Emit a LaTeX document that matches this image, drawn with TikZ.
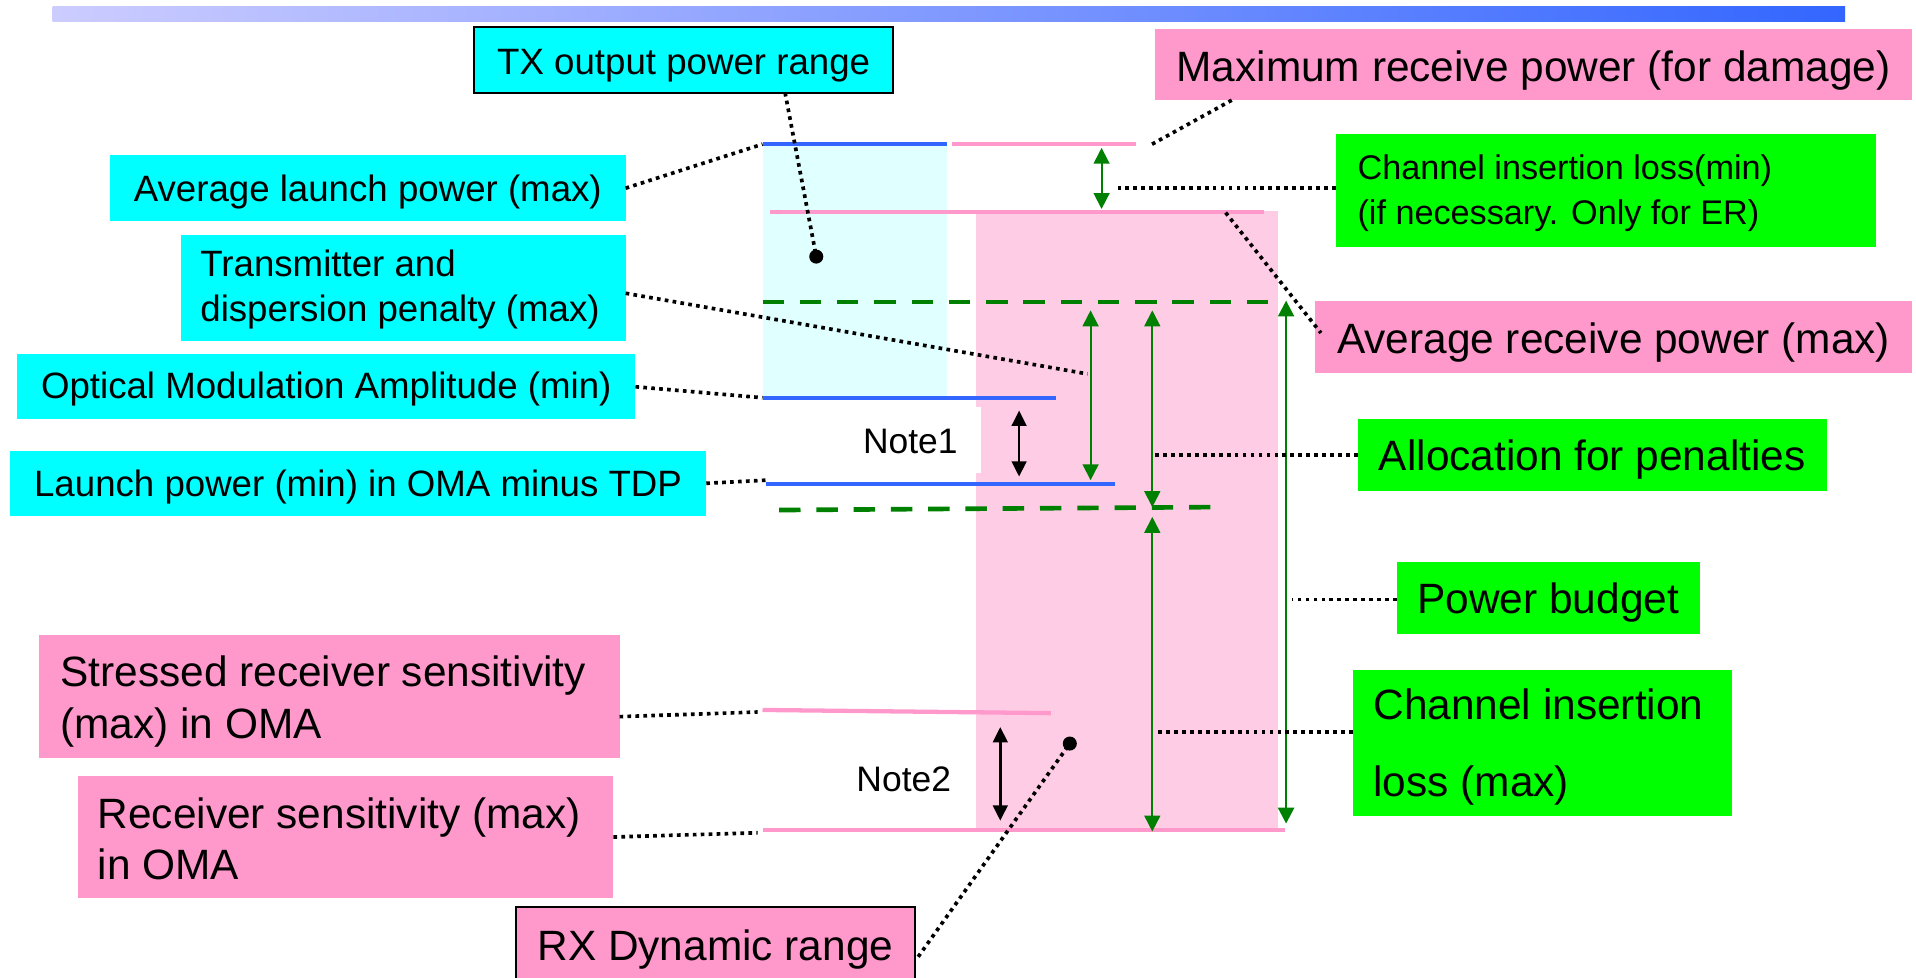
\documentclass[tikz,border=0pt]{standalone}
\usepackage{fontspec}
\setmainfont{Liberation Sans}
\usetikzlibrary{arrows.meta,calc}
\definecolor{cyanbox}{HTML}{00FFFF}
\definecolor{pinkbox}{HTML}{FF99CC}
\definecolor{greenbox}{HTML}{00FF00}
\definecolor{lightcyan}{HTML}{E0FFFF}
\definecolor{lightpink}{HTML}{FFCCE5}
\definecolor{lineblue}{HTML}{3366FF}
\definecolor{linepink}{HTML}{FF99CC}
\definecolor{darkgreen}{HTML}{008000}
\definecolor{barL}{HTML}{CCCCFF}
\definecolor{barM}{HTML}{A4ACFF}
\definecolor{barR}{HTML}{3366FF}
% text placed with its first baseline raised by #1 from the box centre
\newcommand\bt[4]{\smash{\raisebox{#1}{\makebox[#2][#3]{\begin{tabular}[t]{@{}#3@{}}#4\end{tabular}}}}}
\tikzset{
  lab/.style={rectangle, inner sep=0pt, outer sep=0pt, text=black},
  cyanlab/.style={lab, fill=cyanbox, font=\fontsize{30}{37}\selectfont},
  pinklab/.style={lab, fill=pinkbox, font=\fontsize{34.7}{42}\selectfont},
  greenlab/.style={lab, fill=greenbox, font=\fontsize{34.7}{42}\selectfont},
  notelab/.style={lab, font=\fontsize{29}{35}\selectfont},
  dotnode/.style={circle, fill=black, inner sep=0pt, minimum size=11.5pt},
  conn/.style={line width=3pt, dash pattern=on 3pt off 3.5pt, black},
  hblue/.style={line width=3.5pt, lineblue},
  hpink/.style={line width=3.5pt, linepink},
  gdash/.style={line width=3.8pt, darkgreen, dash pattern=on 17.5pt off 13pt},
  garrow/.style={line width=1.5pt, darkgreen, {Triangle[length=13pt,width=13pt]}-{Triangle[length=13pt,width=13pt]}},
  barrow/.style={line width=2pt, black, {Triangle[length=12.5pt,width=12pt]}-{Triangle[length=12.5pt,width=12pt]}}
}
\begin{document}
\begin{tikzpicture}[x=1pt,y=-1pt]
\useasboundingbox (0,0) rectangle (1568,800);
\clip (0,0) rectangle (1568,800);

% title bar
\shade[left color=barL, middle color=barM, right color=barR] (43,5) rectangle (1510,18);

% shaded ranges
\fill[lightcyan] (624,118) rectangle (775,325);
\fill[lightpink] (799,173) rectangle (1046,680);

% level coordinates
\coordinate (b1w) at (624,118);   \coordinate (b1e) at (775,118);
\coordinate (p1w) at (779,118);   \coordinate (p1e) at (930,118);
\coordinate (p2w) at (630.5,173.5); \coordinate (p2e) at (1034,173.5);
\coordinate (k1w) at (624,247);   \coordinate (k1e) at (1038,247);
\coordinate (b2w) at (624,325.5); \coordinate (b2e) at (864,325.5);
\coordinate (b3w) at (626.5,396); \coordinate (b3e) at (912.5,396);
\coordinate (k2w) at (637.6,417.4); \coordinate (k2e) at (991,415);
\coordinate (p3w) at (624,581);   \coordinate (p3e) at (860,583.6);
\coordinate (p4w) at (624,679.5); \coordinate (p4e) at (1052,679.5);

% level lines
\draw[hblue] (b1w) -- (b1e);
\draw[hpink] (p1w) -- (p1e);
\draw[hpink] (p2w) -- (p2e);
\draw[gdash] (k1w) -- (k1e);
\draw[hblue] (b2w) -- (b2e);
\draw[hblue] (b3w) -- (b3e);
\draw[gdash] (k2w) -- (k2e);
\draw[hpink] (p3w) -- (p3e);
\draw[hpink] (p4w) -- (p4e);

% Notes
\node[notelab, fill=white, minimum width=116pt, minimum height=54pt] (note1) at (745,360) {\bt{-11pt}{0pt}{c}{Note1}};
\node[notelab, minimum width=90pt, minimum height=40pt] (note2) at (739.6,637.7) {\bt{-10.3pt}{0pt}{c}{Note2}};

% arrows
\coordinate (g1t) at (901.5,121);  \coordinate (g1b) at (901.5,171);
\coordinate (g2t) at (892.5,254);  \coordinate (g2b) at (892.5,393);
\coordinate (g3t) at (943,254);    \coordinate (g3b) at (943,415);
\coordinate (g4t) at (1052.5,246); \coordinate (g4b) at (1052.5,674);
\coordinate (g5t) at (943,423);    \coordinate (g5b) at (943,680.5);
\coordinate (n1t) at (834,336);    \coordinate (n1b) at (834,390);
\coordinate (n2t) at (818.6,595);  \coordinate (n2b) at (818.6,671.6);
\draw[garrow] (g1t) -- (g1b);
\draw[garrow] (g2t) -- (g2b);
\draw[garrow] (g3t) -- (g3b);
\draw[garrow, line width=2.1pt] (g4t) -- (g4b);
\draw[garrow] (g5t) -- (g5b);
\draw[barrow] (n1t) -- (n1b);
\draw[barrow] (n2t) -- (n2b);

% dots
\node[dotnode] (d1) at (668,210) {};
\node[dotnode] (d2) at (875.5,608.5) {};

% label boxes
\node[cyanlab, draw=black, line width=1.5pt, minimum width=343pt, minimum height=54pt] (tx) at (559.5,49) {\bt{-11.8pt}{0pt}{c}{TX output power range}};
\node[pinklab, minimum width=620pt, minimum height=58pt] (maxrx) at (1255,53) {\bt{-13.8pt}{0pt}{c}{Maximum receive power (for damage)}};
\node[cyanlab, minimum width=422pt, minimum height=54pt] (avglaunch) at (301,154) {\bt{-11pt}{0pt}{c}{Average launch power (max)}};
\node[cyanlab, minimum width=364pt, minimum height=87pt] (tdp) at (330,235.5) {\bt{9.1pt}{332pt}{l}{Transmitter and\\dispersion penalty (max)}};
\node[cyanlab, minimum width=506pt, minimum height=53pt] (oma) at (267,316.5) {\bt{-9.5pt}{0pt}{c}{Optical Modulation Amplitude (min)}};
\node[cyanlab, minimum width=570pt, minimum height=53pt] (lpmin) at (293,395.5) {\bt{-10.5pt}{0pt}{c}{Launch power (min) in OMA minus TDP}};
\node[greenlab, font=\fontsize{28}{36.7}\selectfont, minimum width=442pt, minimum height=92pt] (cilmin) at (1314,156) {\bt{8.7pt}{406pt}{l}{Channel insertion loss(min)\\(if necessary. Only for ER)}};
\node[pinklab, minimum width=489pt, minimum height=59pt] (avgrx) at (1320.5,275.5) {\bt{-13.7pt}{0pt}{c}{Average receive power (max)}};
\node[greenlab, minimum width=384pt, minimum height=59pt] (alloc) at (1303,372.5) {\bt{-12.7pt}{0pt}{c}{Allocation for penalties}};
\node[greenlab, minimum width=248pt, minimum height=59pt] (pb) at (1267,489.5) {\bt{-12.5pt}{0pt}{c}{Power budget}};
\node[greenlab, font=\fontsize{34.7}{63}\selectfont, minimum width=310pt, minimum height=120pt] (cilmax) at (1262,608) {\bt{19pt}{276pt}{l}{Channel insertion\\loss (max)}};
\node[pinklab, minimum width=475pt, minimum height=100pt] (srs) at (269.5,570) {\bt{8pt}{440.2pt}{l}{Stressed receiver sensitivity\\(max) in OMA}};
\node[pinklab, minimum width=438.5pt, minimum height=100pt] (rs) at (282.75,685) {\bt{7pt}{405.5pt}{l}{Receiver sensitivity (max)\\in OMA}};
\node[pinklab, draw=black, line width=1.5pt, minimum width=327pt, minimum height=88pt] (rxdr) at (585.5,786) {\bt{0.3pt}{0pt}{c}{RX Dynamic range}};

% connector end points
\coordinate (mxe) at (941,119);
\coordinate (cle) at (915,154);
\coordinate (arx) at (1003,174);
\coordinate (tde) at (890,306);
\coordinate (lpe) at (626.5,393);
\coordinate (ale) at (943,372.5);
\coordinate (pbe) at (1057,490.5);
\coordinate (cme) at (948,599);
\coordinate (sse) at (620,582.7);
\coordinate (rse) at (620,681.5);

% dotted connectors
\draw[conn] ($(tx.south west)+(254.5,0)$) -- (d1.center);
\draw[conn] (avglaunch.east) -- (b1w);
\draw[conn] ($(maxrx.south west)+(63,0)$) -- (mxe);
\draw[conn] ($(cilmin.west)+(0,-2)$) -- (cle);
\draw[conn] (arx) -- ($(avgrx.west)+(5,-3)$);
\draw[conn] ($(tdp.east)+(0,4.5)$) -- (tde);
\draw[conn] (oma.east) -- (b2w);
\draw[conn] (lpmin.east) -- (lpe);
\draw[conn] (alloc.west) -- (ale);
\draw[conn] ($(pb.west)+(0,1)$) -- (pbe);
\draw[conn] ($(cilmax.west)+(0,-9)$) -- (cme);
\draw[conn] ($(srs.east)+(0,16.5)$) -- (sse);
\draw[conn] (rs.east) -- (rse);
\draw[conn] ($(rxdr.east)+(2.4,-3)$) -- (d2.center);
\end{tikzpicture}
\end{document}
